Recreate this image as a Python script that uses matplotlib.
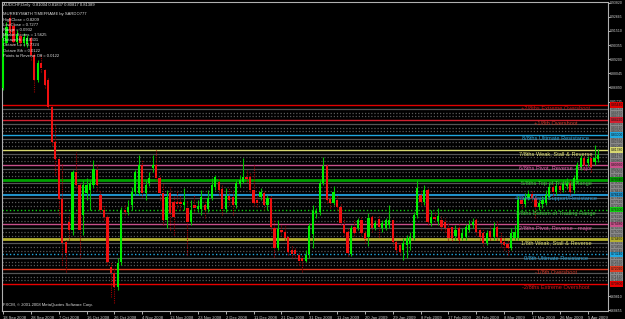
import numpy as np
import matplotlib
matplotlib.use("Agg")
import matplotlib.pyplot as plt
from matplotlib.transforms import blended_transform_factory

plt.rcParams['font.family'] = ['Liberation Sans', 'DejaVu Sans']

# AUDCHF daily bars, 18 Sep 2008 - 7 Apr 2009
opens = [
    0.8684, 0.9052, 0.9257, 0.9191, 0.9060, 0.9110, 0.9052, 0.9044, 0.9093, 0.8954,
    0.8750, 0.8889, 0.8831, 0.8750, 0.8529, 0.8242, 0.8103, 0.7776, 0.7424, 0.7588,
    0.7523, 0.7997, 0.7891, 0.7645, 0.7825, 0.7850, 0.7891, 0.8013, 0.7809, 0.7686,
    0.7629, 0.7220, 0.7171, 0.7056, 0.7261, 0.7686, 0.7670, 0.7727, 0.7833, 0.7825,
    0.8054, 0.7825, 0.7907, 0.8030, 0.8054, 0.7948, 0.7825, 0.7604, 0.7825, 0.7752,
    0.7752, 0.7752, 0.7727, 0.7703, 0.7588, 0.7727, 0.7694, 0.7694, 0.7727, 0.7694,
    0.7784, 0.7874, 0.7915, 0.7858, 0.7694, 0.7801, 0.7792, 0.7727, 0.7899, 0.7915,
    0.7956, 0.7956, 0.7850, 0.7768, 0.7792, 0.7825, 0.7727, 0.7784, 0.7539, 0.7375,
    0.7523, 0.7506, 0.7465, 0.7359, 0.7359, 0.7318, 0.7294, 0.7269, 0.7326, 0.7490,
    0.7662, 0.7670, 0.7907, 0.8046, 0.7776, 0.7743, 0.7768, 0.7711, 0.7564, 0.7506,
    0.7326, 0.7547, 0.7539, 0.7604, 0.7498, 0.7465, 0.7629, 0.7539, 0.7613, 0.7539,
    0.7539, 0.7564, 0.7604, 0.7424, 0.7400, 0.7359, 0.7400, 0.7408, 0.7457, 0.7645,
    0.7809, 0.7752, 0.7850, 0.7580, 0.7629, 0.7596, 0.7604, 0.7588, 0.7539, 0.7547,
    0.7473, 0.7539, 0.7457, 0.7465, 0.7523, 0.7564, 0.7604, 0.7523, 0.7498, 0.7416,
    0.7514, 0.7465, 0.7547, 0.7457, 0.7424, 0.7408, 0.7375, 0.7457, 0.7457, 0.7768,
    0.7735, 0.7784, 0.7817, 0.7784, 0.7711, 0.7735, 0.7743, 0.7792, 0.7874, 0.7833,
    0.7883, 0.7850, 0.7883, 0.7907, 0.7850, 0.7932, 0.8038, 0.8112, 0.8071, 0.8112,
    0.8079, 0.8100]
highs = [
    0.9134, 0.9224, 0.9289, 0.9224, 0.9159, 0.9142, 0.9134, 0.9118, 0.9110, 0.8979,
    0.8913, 0.8954, 0.8848, 0.8766, 0.8545, 0.8382, 0.8120, 0.8071, 0.7441, 0.7645,
    0.8013, 0.8161, 0.7907, 0.7932, 0.7948, 0.7932, 0.8095, 0.8054, 0.7850, 0.7727,
    0.7645, 0.7261, 0.7212, 0.7294, 0.7711, 0.7727, 0.7768, 0.7874, 0.8013, 0.8136,
    0.8095, 0.7932, 0.7997, 0.8136, 0.8177, 0.7973, 0.7907, 0.7850, 0.7874, 0.7809,
    0.7850, 0.7809, 0.7866, 0.7768, 0.7768, 0.7809, 0.7768, 0.7850, 0.7768, 0.7850,
    0.7948, 0.7973, 0.7948, 0.7891, 0.7866, 0.7866, 0.7850, 0.7932, 0.7973, 0.8112,
    0.8013, 0.7997, 0.8054, 0.7809, 0.7866, 0.7850, 0.7809, 0.7809, 0.7604, 0.7604,
    0.7564, 0.7555, 0.7482, 0.7400, 0.7384, 0.7343, 0.7318, 0.7359, 0.7580, 0.7727,
    0.7703, 0.7932, 0.8120, 0.8062, 0.7809, 0.7883, 0.7809, 0.7743, 0.7621, 0.7539,
    0.7564, 0.7604, 0.7621, 0.7637, 0.7523, 0.7662, 0.7645, 0.7604, 0.7645, 0.7604,
    0.7621, 0.7727, 0.7621, 0.7441, 0.7424, 0.7457, 0.7482, 0.7506, 0.7670, 0.7932,
    0.7850, 0.7891, 0.7866, 0.7686, 0.7670, 0.7703, 0.7637, 0.7621, 0.7588, 0.7564,
    0.7564, 0.7572, 0.7539, 0.7572, 0.7604, 0.7621, 0.7621, 0.7539, 0.7539, 0.7523,
    0.7555, 0.7588, 0.7604, 0.7506, 0.7457, 0.7441, 0.7539, 0.7564, 0.7801, 0.7809,
    0.7825, 0.7850, 0.7850, 0.7809, 0.7768, 0.7801, 0.7850, 0.7907, 0.7907, 0.7915,
    0.7915, 0.7932, 0.7948, 0.7932, 0.7973, 0.8079, 0.8136, 0.8136, 0.8128, 0.8136,
    0.8218, 0.8182]
lows = [
    0.8668, 0.9036, 0.9110, 0.9036, 0.9044, 0.9028, 0.9028, 0.9020, 0.8913, 0.8651,
    0.8733, 0.8815, 0.8684, 0.8521, 0.8218, 0.7973, 0.7645, 0.7236, 0.7179, 0.7441,
    0.7482, 0.7866, 0.7294, 0.7482, 0.7768, 0.7686, 0.7866, 0.7850, 0.7670, 0.7604,
    0.7236, 0.6975, 0.6925, 0.7032, 0.7236, 0.7645, 0.7645, 0.7686, 0.7809, 0.7809,
    0.7792, 0.7768, 0.7883, 0.7997, 0.7932, 0.7768, 0.7564, 0.7539, 0.7523, 0.7482,
    0.7703, 0.7686, 0.7686, 0.7318, 0.7564, 0.7670, 0.7670, 0.7645, 0.7621, 0.7670,
    0.7768, 0.7850, 0.7809, 0.7645, 0.7670, 0.7727, 0.7645, 0.7703, 0.7874, 0.7907,
    0.7915, 0.7833, 0.7719, 0.7711, 0.7768, 0.7686, 0.7686, 0.7523, 0.7302, 0.7359,
    0.7482, 0.7441, 0.7318, 0.7294, 0.7294, 0.7236, 0.7179, 0.7261, 0.7294, 0.7375,
    0.7621, 0.7645, 0.7891, 0.7743, 0.7703, 0.7727, 0.7686, 0.7564, 0.7473, 0.7310,
    0.7310, 0.7473, 0.7523, 0.7473, 0.7416, 0.7392, 0.7506, 0.7523, 0.7465, 0.7506,
    0.7523, 0.7539, 0.7400, 0.7334, 0.7318, 0.7277, 0.7294, 0.7359, 0.7441, 0.7621,
    0.7727, 0.7727, 0.7564, 0.7555, 0.7588, 0.7564, 0.7523, 0.7506, 0.7441, 0.7433,
    0.7441, 0.7416, 0.7441, 0.7441, 0.7506, 0.7539, 0.7482, 0.7441, 0.7392, 0.7400,
    0.7441, 0.7441, 0.7441, 0.7384, 0.7359, 0.7318, 0.7359, 0.7441, 0.7441, 0.7703,
    0.7711, 0.7768, 0.7760, 0.7621, 0.7686, 0.7703, 0.7727, 0.7776, 0.7801, 0.7809,
    0.7825, 0.7833, 0.7858, 0.7809, 0.7825, 0.7907, 0.8013, 0.8013, 0.8046, 0.7997,
    0.8054, 0.8082]
closes = [
    0.9093, 0.9183, 0.9134, 0.9060, 0.9126, 0.9052, 0.9101, 0.9093, 0.8954, 0.8750,
    0.8889, 0.8848, 0.8709, 0.8529, 0.8242, 0.8103, 0.7776, 0.7416, 0.7334, 0.7523,
    0.7997, 0.7891, 0.7523, 0.7891, 0.7891, 0.7907, 0.8022, 0.7891, 0.7686, 0.7629,
    0.7261, 0.7171, 0.7056, 0.7253, 0.7686, 0.7670, 0.7711, 0.7833, 0.7997, 0.8054,
    0.7825, 0.7891, 0.7948, 0.8054, 0.7948, 0.7825, 0.7604, 0.7792, 0.7662, 0.7629,
    0.7735, 0.7735, 0.7752, 0.7588, 0.7686, 0.7703, 0.7719, 0.7792, 0.7686, 0.7784,
    0.7891, 0.7956, 0.7850, 0.7694, 0.7801, 0.7768, 0.7727, 0.7907, 0.7932, 0.7956,
    0.7940, 0.7850, 0.7743, 0.7743, 0.7833, 0.7727, 0.7784, 0.7547, 0.7375, 0.7531,
    0.7506, 0.7457, 0.7343, 0.7326, 0.7326, 0.7269, 0.7269, 0.7318, 0.7555, 0.7678,
    0.7678, 0.7907, 0.8046, 0.7768, 0.7743, 0.7833, 0.7711, 0.7580, 0.7498, 0.7334,
    0.7539, 0.7498, 0.7604, 0.7498, 0.7449, 0.7621, 0.7539, 0.7580, 0.7547, 0.7580,
    0.7604, 0.7604, 0.7424, 0.7359, 0.7343, 0.7416, 0.7457, 0.7465, 0.7645, 0.7866,
    0.7752, 0.7850, 0.7588, 0.7629, 0.7613, 0.7637, 0.7547, 0.7539, 0.7457, 0.7457,
    0.7523, 0.7441, 0.7498, 0.7547, 0.7564, 0.7588, 0.7506, 0.7465, 0.7416, 0.7498,
    0.7465, 0.7539, 0.7465, 0.7416, 0.7400, 0.7375, 0.7498, 0.7506, 0.7768, 0.7735,
    0.7784, 0.7817, 0.7784, 0.7711, 0.7743, 0.7768, 0.7809, 0.7874, 0.7833, 0.7883,
    0.7850, 0.7899, 0.7907, 0.7833, 0.7948, 0.8054, 0.8112, 0.8054, 0.8103, 0.8038,
    0.8112, 0.8139]

date_labels = ["18 Sep 2008", "28 Sep 2008", "7 Oct 2008", "16 Oct 2008", "26 Oct 2008",
               "4 Nov 2008", "13 Nov 2008", "23 Nov 2008", "2 Dec 2008", "11 Dec 2008",
               "21 Dec 2008", "31 Dec 2008", "11 Jan 2009", "20 Jan 2009", "29 Jan 2009",
               "8 Feb 2009", "17 Feb 2009", "26 Feb 2009", "8 Mar 2009", "17 Mar 2009",
               "26 Mar 2009", "5 Apr 2009"]
bars_per_label = 8

price_ticks = [0.93820, 0.92665, 0.91510, 0.90355, 0.89200, 0.88045, 0.86890, 0.85735,
               0.69810, 0.68655]

# Murrey math levels, -2/8 .. +2/8
mm_levels = [0.7080, 0.7202, 0.7324, 0.7446, 0.7568, 0.7690, 0.7812, 0.7934,
             0.8056, 0.8178, 0.8300, 0.8422, 0.8544]
mm_names = ["-2/8ths Extreme Overshoot", "-1/8th Overshoot", "0/8th Ultimate Resistance",
            "1/8th Weak, Stall & Reverse", "2/8ths Pivot, Reverse - major",
            "3/8ths Bottom of Trading Range", "4/8ths Major Support/Resistance",
            "5/8ths Top of Trading Range", "6/8ths Pivot, Reverse - major",
            "7/8ths Weak, Stall & Reverse", "8/8ths Ultimate Resistance",
            "+1/8th Overshoot", "+2/8ths Extreme Overshoot"]
mm_line_colors = ["#e80000", "#e03a20", "#20a8e0", "#b4b030", "#c8508a", "#10d010",
                  "#2090c8", "#00a000", "#c8508a", "#d8d870", "#20a8e0", "#d02030", "#e00000"]
mm_text_colors = ["#d01818", "#d03828", "#28a8e0", "#e0e070", "#e058a8", "#38d038",
                  "#28a0e0", "#38d038", "#e058a8", "#e8e878", "#28a8e0", "#c83828", "#c81818"]
mm_widths = [1, 1, 1, 2, 1, 1, 1.5, 2, 1, 1, 1, 1, 1]
mm_styles = ["-", "-", ":", "-", "-", ":", "-", "-", "-", "-", "-", "-", "-"]

info_lines = ["MURREYMATH TIMEFRAME by SARDO777", "HighClose = 0.8209", "LowClose = 0.7277",
              "Range = 0.0932", "Market Scores = 1.5625", "Octave Hi = 0.8301",
              "Octave Lo = 0.7324", "Octave 8th = 0.0122", "Points to Reverse Off = 0.0122"]

W, H = 625, 319
fig = plt.figure(figsize=(W / 100, H / 100), dpi=100, facecolor="black")
ax = fig.add_axes([2 / W, 8 / H, 606 / W, 309 / H], facecolor="black")

x = np.arange(len(closes))
o = np.array(opens); c = np.array(closes)
h = np.array(highs); l = np.array(lows)
up = c >= o

# murrey grid: three grey quarter lines between neighbouring levels
for lo_, hi_ in zip(mm_levels[:-1], mm_levels[1:]):
    q = np.linspace(hi_, lo_, 5)[1:-1]
    ax.axhline(q[0], color="#555555", lw=0.9, zorder=1)
    ax.axhline(q[1], color="#5a5a5a", lw=0.9, ls=(0, (1, 1.5)), zorder=1)
    ax.axhline(q[2], color="#5a5a5a", lw=0.9, ls=(0, (1, 1.5)), zorder=1)

for lvl, col, lw, ls in zip(mm_levels, mm_line_colors, mm_widths, mm_styles):
    ax.axhline(lvl, color=col, lw=lw, ls=ls, zorder=2)

# candles
ax.vlines(x[up], l[up], h[up], color="#00c000", lw=0.8, zorder=3)
ax.vlines(x[~up], l[~up], h[~up], color="#a00000", lw=0.8, ls=(0, (1, 1)), zorder=3)
body = np.maximum(np.abs(c - o), 0.0006)
ax.bar(x[up], body[up], bottom=np.minimum(o, c)[up], width=0.65, color="#00ee00", zorder=4)
ax.bar(x[~up], body[~up], bottom=np.minimum(o, c)[~up], width=0.65, color="#f01010", zorder=4)

# level captions
for lvl, name, col in zip(mm_levels, mm_names, mm_text_colors):
    ax.text(158.9, lvl - 0.0031, name, color=col, fontsize=4.1, ha="center", va="center",
            zorder=5)

ax.set_xlim(-0.29, 173.85)
ax.set_ylim(0.6860, 0.9388)

# right-hand price scale
trans = blended_transform_factory(ax.transAxes, ax.transData)
for lo_, hi_ in zip(mm_levels[:-1], mm_levels[1:]):
    for v in np.linspace(hi_, lo_, 5)[1:-1]:
        ax.text(1.004, v, f"{v:.5f}", transform=trans, fontsize=2.4, color="#303030",
                va="center", ha="left", clip_on=False,
                bbox=dict(facecolor="#8a8a8a", edgecolor="none", pad=0.5))
for lvl, col in zip(mm_levels, mm_line_colors):
    ax.text(1.004, lvl, f"{lvl:.5f}", transform=trans, fontsize=2.4, color="#101010",
            va="center", ha="left", clip_on=False,
            bbox=dict(facecolor=col, edgecolor="none", pad=0.5))

ax.yaxis.tick_right()
ax.set_yticks(price_ticks)
ax.set_yticklabels([f"{v:.5f}" for v in price_ticks])
ax.set_xticks(np.arange(len(date_labels)) * bars_per_label)
ax.set_xticklabels(date_labels, ha="left")
ax.tick_params(axis="x", colors="#d0d0d0", labelsize=3.0, length=2, width=0.6, pad=1.5)
ax.tick_params(axis="y", colors="#d0d0d0", labelsize=2.5, length=1.2, width=0.6, pad=0.5)
for s in ax.spines.values():
    s.set_color("#b0b0b0")
    s.set_linewidth(0.8)

# header and indicator info
fig.text(3 / W, 1 - 4.7 / H, "AUDCHF,Daily  0.81004 0.81837 0.80817 0.81389",
         color="#e0e0e0", fontsize=3.0, va="center")
for i, t in enumerate(info_lines):
    fig.text(3 / W, 1 - (14.3 + 5.2 * i) / H, t, color="#e0e0e0", fontsize=3.0, va="center")
fig.text(3 / W, 1 - 305 / H, "FXCM, \u00a9 2001-2008 MetaQuotes Software Corp.",
         color="#e0e0e0", fontsize=3.0, va="center")

fig.savefig("out.png", dpi=100, facecolor="black")
